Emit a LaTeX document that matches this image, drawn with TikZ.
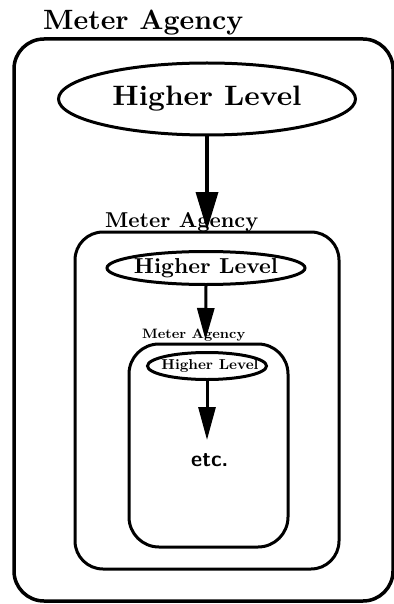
\documentclass[tikz,border=0pt]{standalone}
\usepackage{graphicx}
\usetikzlibrary{shapes.geometric,arrows.meta}
\newcommand\fitbox[3]{\resizebox{#1}{#2}{\bfseries #3}}
\begin{document}
\begin{tikzpicture}[x=1pt,y=-1pt,
  agencybox/.style={draw, rectangle, line width=3pt, rounded corners=28pt, inner sep=0pt},
  oval/.style={draw, ellipse, line width=3pt, inner sep=0pt},
  lbl/.style={inner sep=0pt, anchor=base west},
  flow/.style={line width=#1},
  flow/.default=3pt]
\useasboundingbox (0,0) rectangle (393,604);
% agency boxes
\node[agencybox, line width=3.5pt, rounded corners=30pt, minimum width=379pt, minimum height=562pt] (b1) at (203.5,320) {};
\node[agencybox, minimum width=264pt, minimum height=337pt] (b2) at (207,400.5) {};
\node[agencybox, rounded corners=30pt, minimum width=159pt, minimum height=203pt] (b3) at (208.5,445.5) {};
% labels
\node[lbl] (l1) at (43,30) {\fitbox{200pt}{19.5pt}{Meter Agency}};
\node[lbl] (l2) at (105,227) {\fitbox{153pt}{15pt}{Meter Agency}};
\node[lbl] (l3) at (142,338) {\fitbox{103pt}{9.5pt}{Meter Agency}};
% higher level ovals
\node[oval, minimum width=297pt, minimum height=72pt] (e1) at (207,99) {};
\node[oval, minimum width=198pt, minimum height=33pt] (e2) at (206,268) {};
\node[oval, minimum width=119pt, minimum height=27pt] (e3) at (207,366) {};
\node[inner sep=0pt] (t1) at (e1.center) {\fitbox{189pt}{19.5pt}{Higher Level}};
\node[inner sep=0pt] (t2) at (e2.center) {\fitbox{144pt}{15pt}{Higher Level}};
\node[inner sep=0pt] (t3) at ([xshift=3pt]e3.center) {\fitbox{97pt}{10pt}{Higher Level}};
% etc
\node[lbl] (etc) at (191,466) {\fitbox{37pt}{13pt}{\sffamily etc.}};
% arrows
\coordinate (a1) at (207,230);
\coordinate (a2) at (205.5,340);
\coordinate (a3) at (207,440);
\draw[flow=3.5pt, -{Triangle[length=38pt,width=22pt]}] (e1.south) -- (a1);
\draw[flow, -{Triangle[length=32pt,width=17pt]}] (e2.south) -- (a2);
\draw[flow, -{Triangle[length=33pt,width=17pt]}] (e3.south) -- (a3);
\end{tikzpicture}
\end{document}
